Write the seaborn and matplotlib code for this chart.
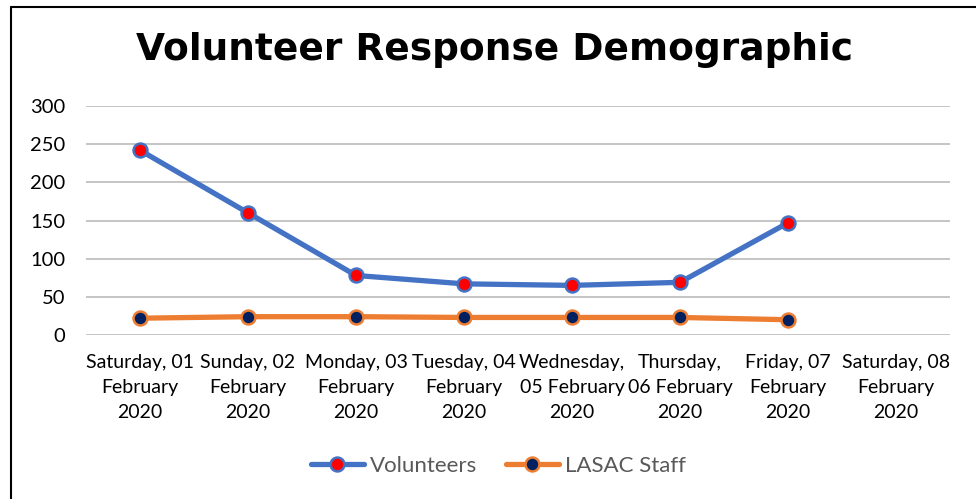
import matplotlib
matplotlib.use("Agg")
import matplotlib.pyplot as plt
from matplotlib.lines import Line2D
import seaborn as sns
import pandas as pd
import numpy as np

categories = [
    "Saturday, 01\nFebruary\n2020",
    "Sunday, 02\nFebruary\n2020",
    "Monday, 03\nFebruary\n2020",
    "Tuesday, 04\nFebruary\n2020",
    "Wednesday,\n05 February\n2020",
    "Thursday,\n06 February\n2020",
    "Friday, 07\nFebruary\n2020",
    "Saturday, 08\nFebruary\n2020",
]
volunteers = [242, 160, 78, 67, 65, 69, 147, np.nan]
lasac_staff = [22, 24, 24, 23, 23, 23, 20, np.nan]
y_ticks = [0, 50, 100, 150, 200, 250, 300]

sns.set_theme(style="white")
plt.rcParams["font.family"] = ["Lato", "DejaVu Sans"]

df = pd.DataFrame({
    "pos": list(range(len(categories))) * 2,
    "value": volunteers + lasac_staff,
    "series": ["Volunteers"] * len(categories) + ["LASAC Staff"] * len(categories),
})

fig = plt.figure(figsize=(9.76, 4.99), dpi=100)
ax = fig.add_axes([86 / 976, 1 - 335 / 499, (950 - 86) / 976, (335 - 106) / 499])

styles = {
    "Volunteers": dict(color="#4472C4", mfc="#FF0000", mec="#4472C4"),
    "LASAC Staff": dict(color="#ED7D31", mfc="#002060", mec="#ED7D31"),
}
for name, st in styles.items():
    sub = df[df["series"] == name].dropna()
    sns.lineplot(data=sub, x="pos", y="value", ax=ax, color=st["color"], linewidth=3.8,
                 marker="o", markersize=10, markerfacecolor=st["mfc"],
                 markeredgecolor=st["mec"], markeredgewidth=1.8, sort=False, legend=False,
                 zorder=3)

ax.set_xlim(-0.5, len(categories) - 0.5)
ax.set_ylim(0, 300)
ax.set_yticks(y_ticks)
ax.set_yticklabels([str(t) for t in y_ticks], fontsize=14.5, color="black")
ax.set_xticks(range(len(categories)))
ax.set_xticklabels(categories, fontsize=14, color="black", linespacing=1.55)
ax.tick_params(axis="y", length=0, pad=15)
ax.tick_params(axis="x", length=0, pad=14)
ax.set_xlabel("")
ax.set_ylabel("")
for s in ax.spines.values():
    s.set_visible(False)
ax.yaxis.grid(True, color="#C0C0C0", linewidth=1.3)
ax.set_axisbelow(True)

fig.text(495 / 976, 1 - 50 / 499, "Volunteer Response Demographic", ha="center", va="center",
         fontsize=27, fontweight="bold", family=["DejaVu Sans"], color="black")

handles = [
    Line2D([], [], color="#4472C4", linewidth=3.8, marker="o", markersize=10,
           markerfacecolor="#FF0000", markeredgecolor="#4472C4", markeredgewidth=1.8),
    Line2D([], [], color="#ED7D31", linewidth=3.8, marker="o", markersize=10,
           markerfacecolor="#002060", markeredgecolor="#ED7D31", markeredgewidth=1.8),
]
leg = fig.legend(handles, ["Volunteers", "LASAC Staff"], loc="center",
                 bbox_to_anchor=(498 / 976, 1 - 466 / 499), ncol=2, frameon=False,
                 fontsize=16, handlelength=2.4, handletextpad=0.25, columnspacing=1.3)
for t in leg.get_texts():
    t.set_color("#595959")

# chart border (top and left visible)
fig.add_artist(Line2D([11 / 976, 11 / 976], [0, 1 - 7 / 499], transform=fig.transFigure,
                      color="black", linewidth=1.5))
fig.add_artist(Line2D([11 / 976, 1], [1 - 7 / 499, 1 - 7 / 499], transform=fig.transFigure,
                      color="black", linewidth=1.5))

fig.savefig("out.png", dpi=100, facecolor="white")
